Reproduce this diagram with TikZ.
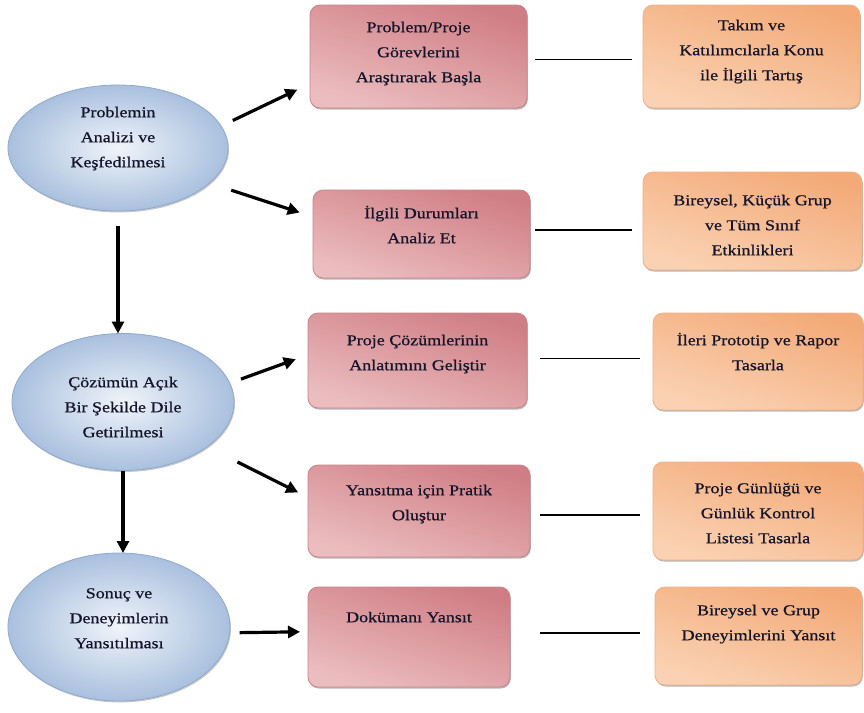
\documentclass[tikz,border=0pt]{standalone}
\usepackage{fontspec}
\setmainfont{Liberation Serif}[FakeStretch=1.2,FakeBold=0.7]
\usetikzlibrary{arrows.meta,shadows,calc,shapes.geometric}
\definecolor{pinkD}{HTML}{D07E85}
\definecolor{pinkM}{HTML}{EBBDBF}
\definecolor{pinkL}{HTML}{F8E8E8}
\definecolor{pinkB}{HTML}{C98489}
\definecolor{orD}{HTML}{F3AA78}
\definecolor{orM}{HTML}{FAD2B3}
\definecolor{orL}{HTML}{FEEEE2}
\definecolor{orB}{HTML}{EFB088}
\definecolor{blO}{HTML}{A9C0DE}
\definecolor{blI}{HTML}{F0F4FA}
\definecolor{blB}{HTML}{8EA9CF}
\definecolor{txtc}{HTML}{14142A}
\begin{document}
\begin{tikzpicture}[x=1pt,y=-1pt,
  ell/.style={ellipse, draw=blB, line width=0.8pt, inner color=blI, outer color=blO, inner sep=0pt, outer sep=0pt, drop shadow={shadow xshift=1pt,shadow yshift=-1.5pt,opacity=0.3,fill=black!70}},
  pbox/.style={rectangle, rounded corners=10pt, draw=pinkB, line width=0.8pt, top color=pinkD, middle color=pinkL, bottom color=pinkM, shading angle=-18, inner sep=0pt, outer sep=0pt, drop shadow={shadow xshift=0.8pt,shadow yshift=-1.5pt,opacity=0.4,fill=black!70}},
  obox/.style={rectangle, rounded corners=10pt, draw=orB, line width=0.8pt, top color=orD, middle color=orL, bottom color=orM, shading angle=-18, inner sep=0pt, outer sep=0pt, drop shadow={shadow xshift=0.8pt,shadow yshift=-1.5pt,opacity=0.4,fill=black!70}},
  txt/.style={align=center, inner sep=0pt, anchor=north, text=txtc, font=\fontsize{15}{25}\selectfont},
  arr/.style={line width=3.2pt, -{Triangle[length=12pt,width=12pt]}},
  link/.style={line width=1.6pt}
]
\useasboundingbox[fill=white] (0,0) rectangle (864,712);

% ellipses
\node[ell, minimum width=220pt, minimum height=126pt] (e1) at (118,148) {};
\node[ell, minimum width=222pt, minimum height=137pt] (e2) at (123,402) {};
\node[ell, minimum width=222pt, minimum height=148pt] (e3) at (119,627) {};

% pink boxes
\node[pbox, minimum width=217pt, minimum height=103pt] (p1) at (418.5,56.5) {};
\node[pbox, minimum width=217pt, minimum height=88pt] (p2) at (421.5,234) {};
\node[pbox, minimum width=219pt, minimum height=95pt] (p3) at (417.5,360.5) {};
\node[pbox, minimum width=222pt, minimum height=92pt] (p4) at (419,511) {};
\node[pbox, minimum width=202pt, minimum height=100pt] (p5) at (409,637) {};

% orange boxes
\node[obox, minimum width=217pt, minimum height=103pt] (o1) at (751.5,56.5) {};
\node[obox, minimum width=219pt, minimum height=98pt] (o2) at (752.5,221) {};
\node[obox, minimum width=210pt, minimum height=97pt] (o3) at (758,361.5) {};
\node[obox, minimum width=210pt, minimum height=98pt] (o4) at (758,511) {};
\node[obox, minimum width=207pt, minimum height=98pt] (o5) at (758.5,636) {};

% texts
\node[txt] (te1) at ([yshift=48.5pt]e1.center) {\strut Problemin\\Analizi ve\\Keşfedilmesi};
\node[txt] (te2) at ([yshift=32.5pt]e2.center) {\strut Çözümün Açık\\Bir Şekilde Dile\\Getirilmesi};
\node[txt] (te3) at ([yshift=46.5pt]e3.center) {\strut Sonuç ve\\Deneyimlerin\\Yansıtılması};

\node[txt] (tp1) at ([yshift=-9.5pt]p1.north) {\strut Problem/Proje\\Görevlerini\\Araştırarak Başla};
\node[txt] (tp2) at ([yshift=-10.5pt]p2.north) {\strut İlgili Durumları\\Analiz Et};
\node[txt] (tp3) at ([yshift=-14.5pt]p3.north) {\strut Proje Çözümlerinin\\Anlatımını Geliştir};
\node[txt] (tp4) at ([yshift=-12.5pt]p4.north) {\strut Yansıtma için Pratik\\Oluştur};
\node[txt] (tp5) at ([yshift=-17.5pt]p5.north) {\strut Dokümanı Yansıt};

\node[txt] (to1) at ([yshift=-7.5pt]o1.north) {\strut Takım ve\\Katılımcılarla Konu\\ile İlgili Tartış};
\node[txt] (to2) at ([yshift=-15.5pt]o2.north) {\strut Bireysel, Küçük Grup\\ve Tüm Sınıf\\Etkinlikleri};
\node[txt] (to3) at ([yshift=-14.5pt]o3.north) {\strut İleri Prototip ve Rapor\\Tasarla};
\node[txt] (to4) at ([yshift=-13.5pt]o4.north) {\strut Proje Günlüğü ve\\Günlük Kontrol\\Listesi Tasarla};
\node[txt] (to5) at ([yshift=-10.5pt]o5.north) {\strut Bireysel ve Grup\\Deneyimlerini Yansıt};

% vertical arrows
\draw[arr, shorten <=15pt] (e1.south) -- (e1.south |- e2.north);
\draw[arr] (e2.south) -- (e2.south |- e3.north);

% slanted arrows
\draw[arr, shorten <=13pt, shorten >=14pt] (e1.12.5) -- (p1.194.2);
\draw[arr, shorten <=23pt, shorten >=14pt] (e1.339.4) -- (p2.171.3);
\draw[arr, shorten <=12pt, shorten >=13pt] (e2.10.9) -- (p3.177.7);
\draw[arr, shorten <=34pt, shorten >=11pt] (e2.332.9) -- (p4.173.4);
\draw[arr, shorten <=10pt, shorten >=8pt] (e3.357.4) -- (p5.177.2);

% links
\draw[link, shorten <=8pt, shorten >=11pt] ([yshift=-3pt]p1.east) -- ([yshift=-3pt]p1.east -| o1.west);
\draw[link, shorten <=5pt, shorten >=11pt] ([yshift=4pt]p2.east) -- ([yshift=4pt]p2.east -| o2.west);
\draw[link, shorten <=13pt, shorten >=13pt] ([yshift=2pt]p3.east) -- ([yshift=2pt]p3.east -| o3.west);
\draw[link, shorten <=10pt, shorten >=13pt] ([yshift=-4pt]p4.east) -- ([yshift=-4pt]p4.east -| o4.west);
\draw[link, shorten <=30pt, shorten >=15pt] ([yshift=4pt]p5.east) -- ([yshift=4pt]p5.east -| o5.west);
\end{tikzpicture}
\end{document}
